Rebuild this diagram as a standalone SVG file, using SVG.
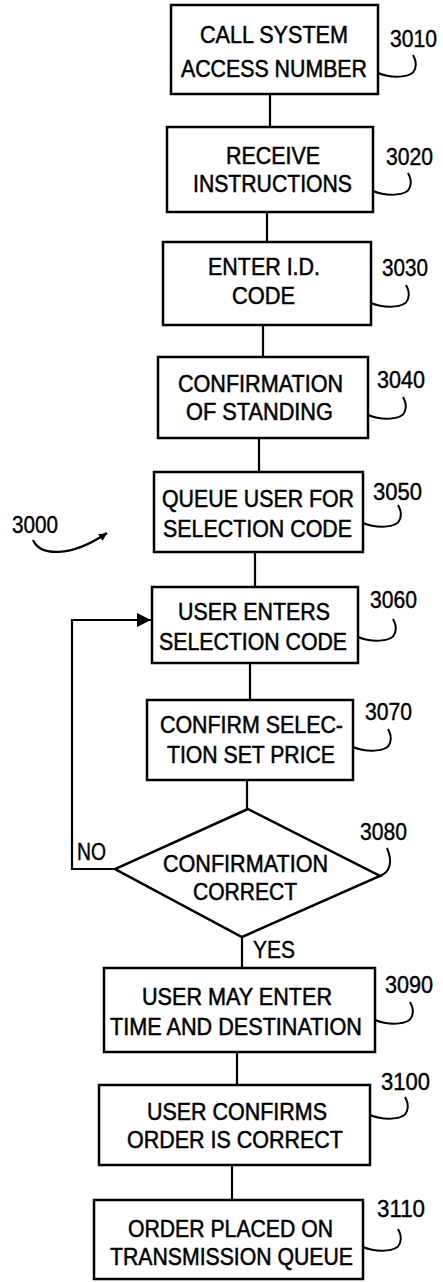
<svg xmlns="http://www.w3.org/2000/svg" width="443" height="1282" viewBox="0 0 443 1282">
<defs>
<style>
.box{fill:#fff;stroke:#000;stroke-width:2.5}
.t{font-family:"Liberation Sans",Arial,sans-serif;font-size:23px;fill:#000;stroke:#000;stroke-width:0.5}
.lbl{font-family:"Liberation Sans",Arial,sans-serif;font-size:23px;fill:#000;stroke:#000;stroke-width:0.4}
.ln{fill:none;stroke:#000;stroke-width:2.2}
.hk{fill:none;stroke:#000;stroke-width:2}
</style>
<marker id="ah" viewBox="0 0 10 10" refX="10" refY="5" markerWidth="9" markerHeight="8" markerUnits="userSpaceOnUse" orient="auto"><path d="M0,0 L10,5 L0,10 Z" fill="#000"/></marker>
<marker id="ah2" viewBox="0 0 10 10" refX="10" refY="5" markerWidth="18" markerHeight="14" markerUnits="userSpaceOnUse" orient="auto"><path d="M0,0 L10,5 L0,10 Z" fill="#000"/></marker>
</defs>
<rect width="443" height="1282" fill="#fff"/>
<g id="connectors">
<path class="ln" d="M270,94 V127"/>
<path class="ln" d="M267,212 V242"/>
<path class="ln" d="M263,325 V357"/>
<path class="ln" d="M259,438 V472"/>
<path class="ln" d="M255,552 V587"/>
<path class="ln" d="M250,663 V700"/>
<path class="ln" d="M247,780 V809"/>
<path class="ln" d="M242,937 V968"/>
<path class="ln" d="M237,1052 V1085"/>
<path class="ln" d="M232,1165 V1200"/>
<path class="ln" d="M115,869 H72 V620 H151" marker-end="url(#ah2)"/>
<path class="ln" d="M33,540 C40,556 70,558 107,533" marker-end="url(#ah)"/>
<text class="lbl" x="77" y="860" textLength="29" lengthAdjust="spacingAndGlyphs" font-size="20">NO</text>
<text class="lbl" x="253" y="958" textLength="42" lengthAdjust="spacingAndGlyphs" font-size="20">YES</text>
<text class="lbl" x="12" y="533" textLength="46" lengthAdjust="spacingAndGlyphs">3000</text>
</g>
<g id="n3010">
<rect class="box" x="171" y="5" width="207" height="89"/>
<text class="t" x="200" y="43" textLength="148" lengthAdjust="spacingAndGlyphs">CALL SYSTEM</text>
<text class="t" x="181" y="77" textLength="186" lengthAdjust="spacingAndGlyphs">ACCESS NUMBER</text>
<text class="lbl" x="390" y="47" textLength="47" lengthAdjust="spacingAndGlyphs">3010</text>
<path class="hk" d="M378,73 c12,5 34,6 37,-4 c2,-6 0,-10 -2,-14"/>
</g>
<g id="n3020">
<rect class="box" x="167" y="127" width="206" height="85"/>
<text class="t" x="226" y="164" textLength="94" lengthAdjust="spacingAndGlyphs">RECEIVE</text>
<text class="t" x="193" y="192" textLength="159" lengthAdjust="spacingAndGlyphs">INSTRUCTIONS</text>
<text class="lbl" x="386" y="165" textLength="47" lengthAdjust="spacingAndGlyphs">3020</text>
<path class="hk" d="M373,191 c12,5 34,6 37,-4 c2,-6 0,-10 -2,-14"/>
</g>
<g id="n3030">
<rect class="box" x="163" y="242" width="208" height="83"/>
<text class="t" x="208" y="275" textLength="112" lengthAdjust="spacingAndGlyphs">ENTER I.D.</text>
<text class="t" x="232" y="304" textLength="63" lengthAdjust="spacingAndGlyphs">CODE</text>
<text class="lbl" x="382" y="276" textLength="46" lengthAdjust="spacingAndGlyphs">3030</text>
<path class="hk" d="M371,303 c12,5 34,6 37,-4 c2,-6 0,-10 -2,-14"/>
</g>
<g id="n3040">
<rect class="box" x="158" y="357" width="210" height="81"/>
<text class="t" x="178" y="392" textLength="165" lengthAdjust="spacingAndGlyphs">CONFIRMATION</text>
<text class="t" x="186" y="420" textLength="147" lengthAdjust="spacingAndGlyphs">OF STANDING</text>
<text class="lbl" x="377" y="388" textLength="48" lengthAdjust="spacingAndGlyphs">3040</text>
<path class="hk" d="M368,415 c12,5 34,6 37,-4 c2,-6 0,-10 -2,-14"/>
</g>
<g id="n3050">
<rect class="box" x="154" y="472" width="209" height="80"/>
<text class="t" x="162" y="507" textLength="192" lengthAdjust="spacingAndGlyphs">QUEUE USER FOR</text>
<text class="t" x="163" y="537" textLength="189" lengthAdjust="spacingAndGlyphs">SELECTION CODE</text>
<text class="lbl" x="373" y="500" textLength="49" lengthAdjust="spacingAndGlyphs">3050</text>
<path class="hk" d="M363,523 c12,5 34,6 37,-4 c2,-6 0,-10 -2,-14"/>
</g>
<g id="n3060">
<rect class="box" x="152" y="587" width="206" height="76"/>
<text class="t" x="178" y="620" textLength="152" lengthAdjust="spacingAndGlyphs">USER ENTERS</text>
<text class="t" x="159" y="650" textLength="188" lengthAdjust="spacingAndGlyphs">SELECTION CODE</text>
<text class="lbl" x="370" y="608" textLength="47" lengthAdjust="spacingAndGlyphs">3060</text>
<path class="hk" d="M358,637 c12,5 34,6 37,-4 c2,-6 0,-10 -2,-14"/>
</g>
<g id="n3070">
<rect class="box" x="147" y="700" width="206" height="80"/>
<text class="t" x="160" y="733" textLength="183" lengthAdjust="spacingAndGlyphs">CONFIRM SELEC-</text>
<text class="t" x="167" y="763" textLength="168" lengthAdjust="spacingAndGlyphs">TION SET PRICE</text>
<text class="lbl" x="365" y="720" textLength="47" lengthAdjust="spacingAndGlyphs">3070</text>
<path class="hk" d="M353,747 c12,5 34,6 37,-4 c2,-6 0,-10 -2,-14"/>
</g>
<g id="n3080">
<polygon class="box" points="248,809 380,876 242,937 115,869"/>
<text class="t" x="163" y="872" textLength="165" lengthAdjust="spacingAndGlyphs">CONFIRMATION</text>
<text class="t" x="193" y="900" textLength="104" lengthAdjust="spacingAndGlyphs">CORRECT</text>
<text class="lbl" x="360" y="840" textLength="47" lengthAdjust="spacingAndGlyphs">3080</text>
<path class="hk" d="M380,876 C390,872 393,862 387,848"/>
</g>
<g id="n3090">
<rect class="box" x="104" y="968" width="271" height="84"/>
<text class="t" x="142" y="1005" textLength="190" lengthAdjust="spacingAndGlyphs">USER MAY ENTER</text>
<text class="t" x="110" y="1035" textLength="252" lengthAdjust="spacingAndGlyphs">TIME AND DESTINATION</text>
<text class="lbl" x="385" y="993" textLength="48" lengthAdjust="spacingAndGlyphs">3090</text>
<path class="hk" d="M375,1020 c12,5 34,6 37,-4 c2,-6 0,-10 -2,-14"/>
</g>
<g id="n3100">
<rect class="box" x="99" y="1085" width="271" height="80"/>
<text class="t" x="147" y="1120" textLength="180" lengthAdjust="spacingAndGlyphs">USER CONFIRMS</text>
<text class="t" x="127" y="1148" textLength="216" lengthAdjust="spacingAndGlyphs">ORDER IS CORRECT</text>
<text class="lbl" x="381" y="1090" textLength="49" lengthAdjust="spacingAndGlyphs">3100</text>
<path class="hk" d="M370,1115 c12,5 34,6 37,-4 c2,-6 0,-10 -2,-14"/>
</g>
<g id="n3110">
<rect class="box" x="94" y="1200" width="269" height="79"/>
<text class="t" x="128" y="1237" textLength="205" lengthAdjust="spacingAndGlyphs">ORDER PLACED ON</text>
<text class="t" x="110" y="1265" textLength="243" lengthAdjust="spacingAndGlyphs">TRANSMISSION QUEUE</text>
<text class="lbl" x="377" y="1217" textLength="48" lengthAdjust="spacingAndGlyphs">3110</text>
<path class="hk" d="M363,1247 c12,5 34,6 37,-4 c2,-6 0,-10 -2,-14"/>
</g>
</svg>
